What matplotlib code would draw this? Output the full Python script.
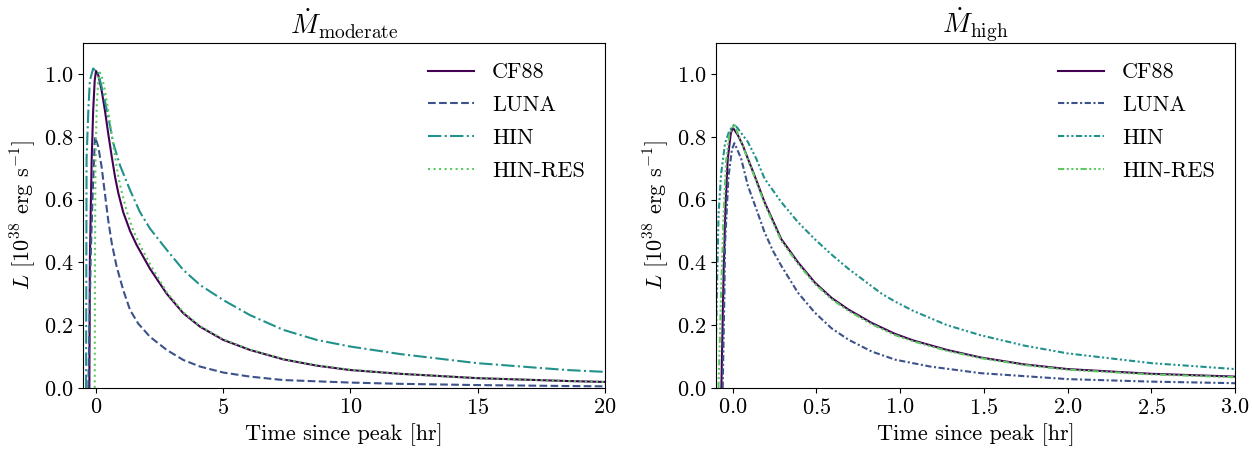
import matplotlib
matplotlib.use('Agg')
import matplotlib.pyplot as plt
import numpy as np

plt.rcParams['font.family'] = 'serif'
plt.rcParams['font.serif'] = ['cmr10']
plt.rcParams['mathtext.fontset'] = 'cm'
plt.rcParams['axes.formatter.use_mathtext'] = True
plt.rcParams['font.size'] = 16

# warna viridis
c_cf88 = '#440154'
c_luna = '#3b528b'
c_hin = '#21918c'
c_hres = '#5ec962'

labels = ['CF88', 'LUNA', 'HIN', 'HIN-RES']

# --- panel kiri: Mdot moderate ---
t_cf88_mod = [-0.26, -0.24, -0.17, -0.11, -0.05, 0.0, 0.09, 0.22, 0.35, 0.48, 0.62, 0.75, 0.88,
              1.07, 1.34, 1.60, 2.12, 2.78, 3.43, 4.09, 5.0, 6.05, 7.36, 8.67, 9.98, 11.94,
              15.0, 18.5, 20]
L_cf88_mod = [0.0, 0.41, 0.726, 0.885, 0.98, 1.01, 0.997, 0.949, 0.885, 0.811, 0.737, 0.672, 0.62,
              0.56, 0.50, 0.455, 0.38, 0.30, 0.238, 0.195, 0.153, 0.121, 0.091, 0.071, 0.057, 0.045,
              0.031, 0.022, 0.019]

t_luna_mod = [-0.30, -0.21, -0.13, -0.04, 0.09, 0.22, 0.35, 0.48, 0.62, 0.81, 1.07, 1.34, 1.66,
              2.12, 2.78, 3.43, 4.09, 5.0, 6.05, 7.36, 9.98, 11.94, 15.0, 18.5, 20]
L_luna_mod = [0.0, 0.41, 0.62, 0.80, 0.769, 0.705, 0.62, 0.535, 0.461, 0.387, 0.312, 0.248, 0.205,
              0.163, 0.121, 0.089, 0.068, 0.049, 0.036, 0.025, 0.017, 0.013, 0.009, 0.006, 0.005]

t_hin_mod = [-0.39, -0.37, -0.30, -0.24, -0.11, 0.09, 0.29, 0.48, 0.68, 0.94, 1.34, 1.73, 2.12,
             2.78, 3.43, 4.09, 5.0, 6.05, 7.36, 8.67, 9.98, 11.94, 14.96, 18.5, 20]
L_hin_mod = [0.0, 0.73, 0.885, 0.98, 1.018, 1.002, 0.938, 0.864, 0.78, 0.71, 0.63, 0.56, 0.508,
             0.44, 0.376, 0.328, 0.28, 0.232, 0.185, 0.153, 0.132, 0.108, 0.079, 0.057, 0.051]

t_hres_mod = [-0.05, -0.04, -0.02, 0.03, 0.09, 0.157, 0.22, 0.35, 0.48, 0.61, 0.75, 0.88, 1.01,
              1.20, 1.47, 1.73, 2.12, 2.78, 3.43, 4.09, 5.0, 6.05, 7.36, 8.67, 9.98, 11.94,
              15.0, 18.5, 20]
L_hres_mod = [0.0, 0.40, 0.72, 0.90, 0.98, 1.005, 0.995, 0.95, 0.885, 0.811, 0.737, 0.672, 0.625,
              0.565, 0.50, 0.455, 0.395, 0.305, 0.241, 0.197, 0.155, 0.122, 0.092, 0.072, 0.058, 0.045,
              0.031, 0.022, 0.019]

# --- panel kanan: Mdot high ---
t_cf88_high = [-0.068, -0.055, -0.044, -0.03, -0.012, 0.0, 0.03, 0.06, 0.09, 0.13, 0.19, 0.24, 0.29,
               0.39, 0.49, 0.59, 0.69, 0.83, 0.97, 1.08, 1.28, 1.48, 1.74, 2.0, 2.5, 3.0]
L_cf88_high = [0.0, 0.36, 0.57, 0.73, 0.81, 0.83, 0.806, 0.773, 0.731, 0.677, 0.592, 0.533, 0.474,
               0.40, 0.336, 0.287, 0.25, 0.207, 0.172, 0.151, 0.121, 0.097, 0.075, 0.060, 0.045, 0.036]

t_luna_high = [-0.06, -0.05, -0.046, -0.026, -0.005, 0.01, 0.05, 0.09, 0.14, 0.19, 0.24, 0.29, 0.39,
               0.49, 0.59, 0.69, 0.83, 0.97, 1.18, 1.48, 2.0, 2.5, 3.0]
L_luna_high = [0.0, 0.30, 0.46, 0.67, 0.76, 0.78, 0.731, 0.645, 0.571, 0.496, 0.437, 0.389, 0.303,
               0.24, 0.19, 0.154, 0.116, 0.09, 0.068, 0.047, 0.028, 0.020, 0.015]

t_hin_high = [-0.105, -0.095, -0.085, -0.07, -0.046, -0.02, 0.01, 0.03, 0.09, 0.14, 0.19, 0.29, 0.39,
              0.49, 0.59, 0.69, 0.79, 0.89, 0.97, 1.08, 1.28, 1.48, 1.74, 2.0, 2.5, 3.0]
L_hin_high = [0.0, 0.30, 0.55, 0.68, 0.78, 0.82, 0.84, 0.827, 0.784, 0.731, 0.667, 0.592, 0.528,
              0.474, 0.425, 0.38, 0.34, 0.30, 0.275, 0.245, 0.20, 0.168, 0.135, 0.11, 0.079, 0.060]

t_hres_high = [-0.085, -0.07, -0.055, -0.04, -0.02, 0.01, 0.03, 0.06, 0.09, 0.13, 0.19, 0.24, 0.29,
               0.39, 0.49, 0.59, 0.69, 0.83, 0.97, 1.08, 1.28, 1.48, 1.74, 2.0, 2.5, 3.0]
L_hres_high = [0.0, 0.30, 0.55, 0.72, 0.81, 0.84, 0.81, 0.772, 0.728, 0.673, 0.587, 0.528, 0.469,
               0.395, 0.332, 0.283, 0.246, 0.203, 0.168, 0.148, 0.118, 0.095, 0.073, 0.058, 0.043, 0.034]

fig = plt.figure(figsize=(12.52, 4.5), dpi=100)
ax1 = fig.add_axes([0.0665, 0.138, 0.4167, 0.767])
ax2 = fig.add_axes([0.5719, 0.138, 0.4145, 0.767])

lw = 1.5
# kiri
ax1.plot(t_cf88_mod, L_cf88_mod, color=c_cf88, lw=lw, ls='-', label=labels[0])
ax1.plot(t_luna_mod, L_luna_mod, color=c_luna, lw=lw, ls='--', label=labels[1])
ax1.plot(t_hin_mod, L_hin_mod, color=c_hin, lw=lw, ls='-.', label=labels[2])
ax1.plot(t_hres_mod, L_hres_mod, color=c_hres, lw=lw, ls=':', label=labels[3])

# kanan
ax2.plot(t_cf88_high, L_cf88_high, color=c_cf88, lw=lw, ls='-', label=labels[0])
ax2.plot(t_luna_high, L_luna_high, color=c_luna, lw=lw, ls=(0, (3, 1.2, 1, 1.2)), label=labels[1])
ax2.plot(t_hin_high, L_hin_high, color=c_hin, lw=lw, ls=(0, (3, 1.2, 1, 1.2, 1, 1.2)), label=labels[2])
ax2.plot(t_hres_high, L_hres_high, color=c_hres, lw=lw, ls=(0, (3, 1.2, 1, 1.2, 1, 1.2, 1, 1.2)), label=labels[3])

ax1.set_xlim(-0.5, 20)
ax1.set_xticks([0, 5, 10, 15, 20])
ax2.set_xlim(-0.1, 3.0)
ax2.set_xticks(np.arange(0, 3.01, 0.5))

for ax in (ax1, ax2):
    ax.set_ylim(0, 1.1)
    ax.set_yticks([0.0, 0.2, 0.4, 0.6, 0.8, 1.0])
    ax.set_xlabel('Time since peak [hr]')
    ax.set_ylabel(r'$L$ [$10^{38}$ erg s$^{-1}$]')
    ax.legend(loc='upper right', frameon=False, fontsize=16, handlelength=2.1,
              labelspacing=0.6)

ax1.set_title(r'$\dot{M}_{\rm moderate}$', fontsize=20)
ax2.set_title(r'$\dot{M}_{\rm high}$', fontsize=20)

fig.savefig('out.png', dpi=100)
